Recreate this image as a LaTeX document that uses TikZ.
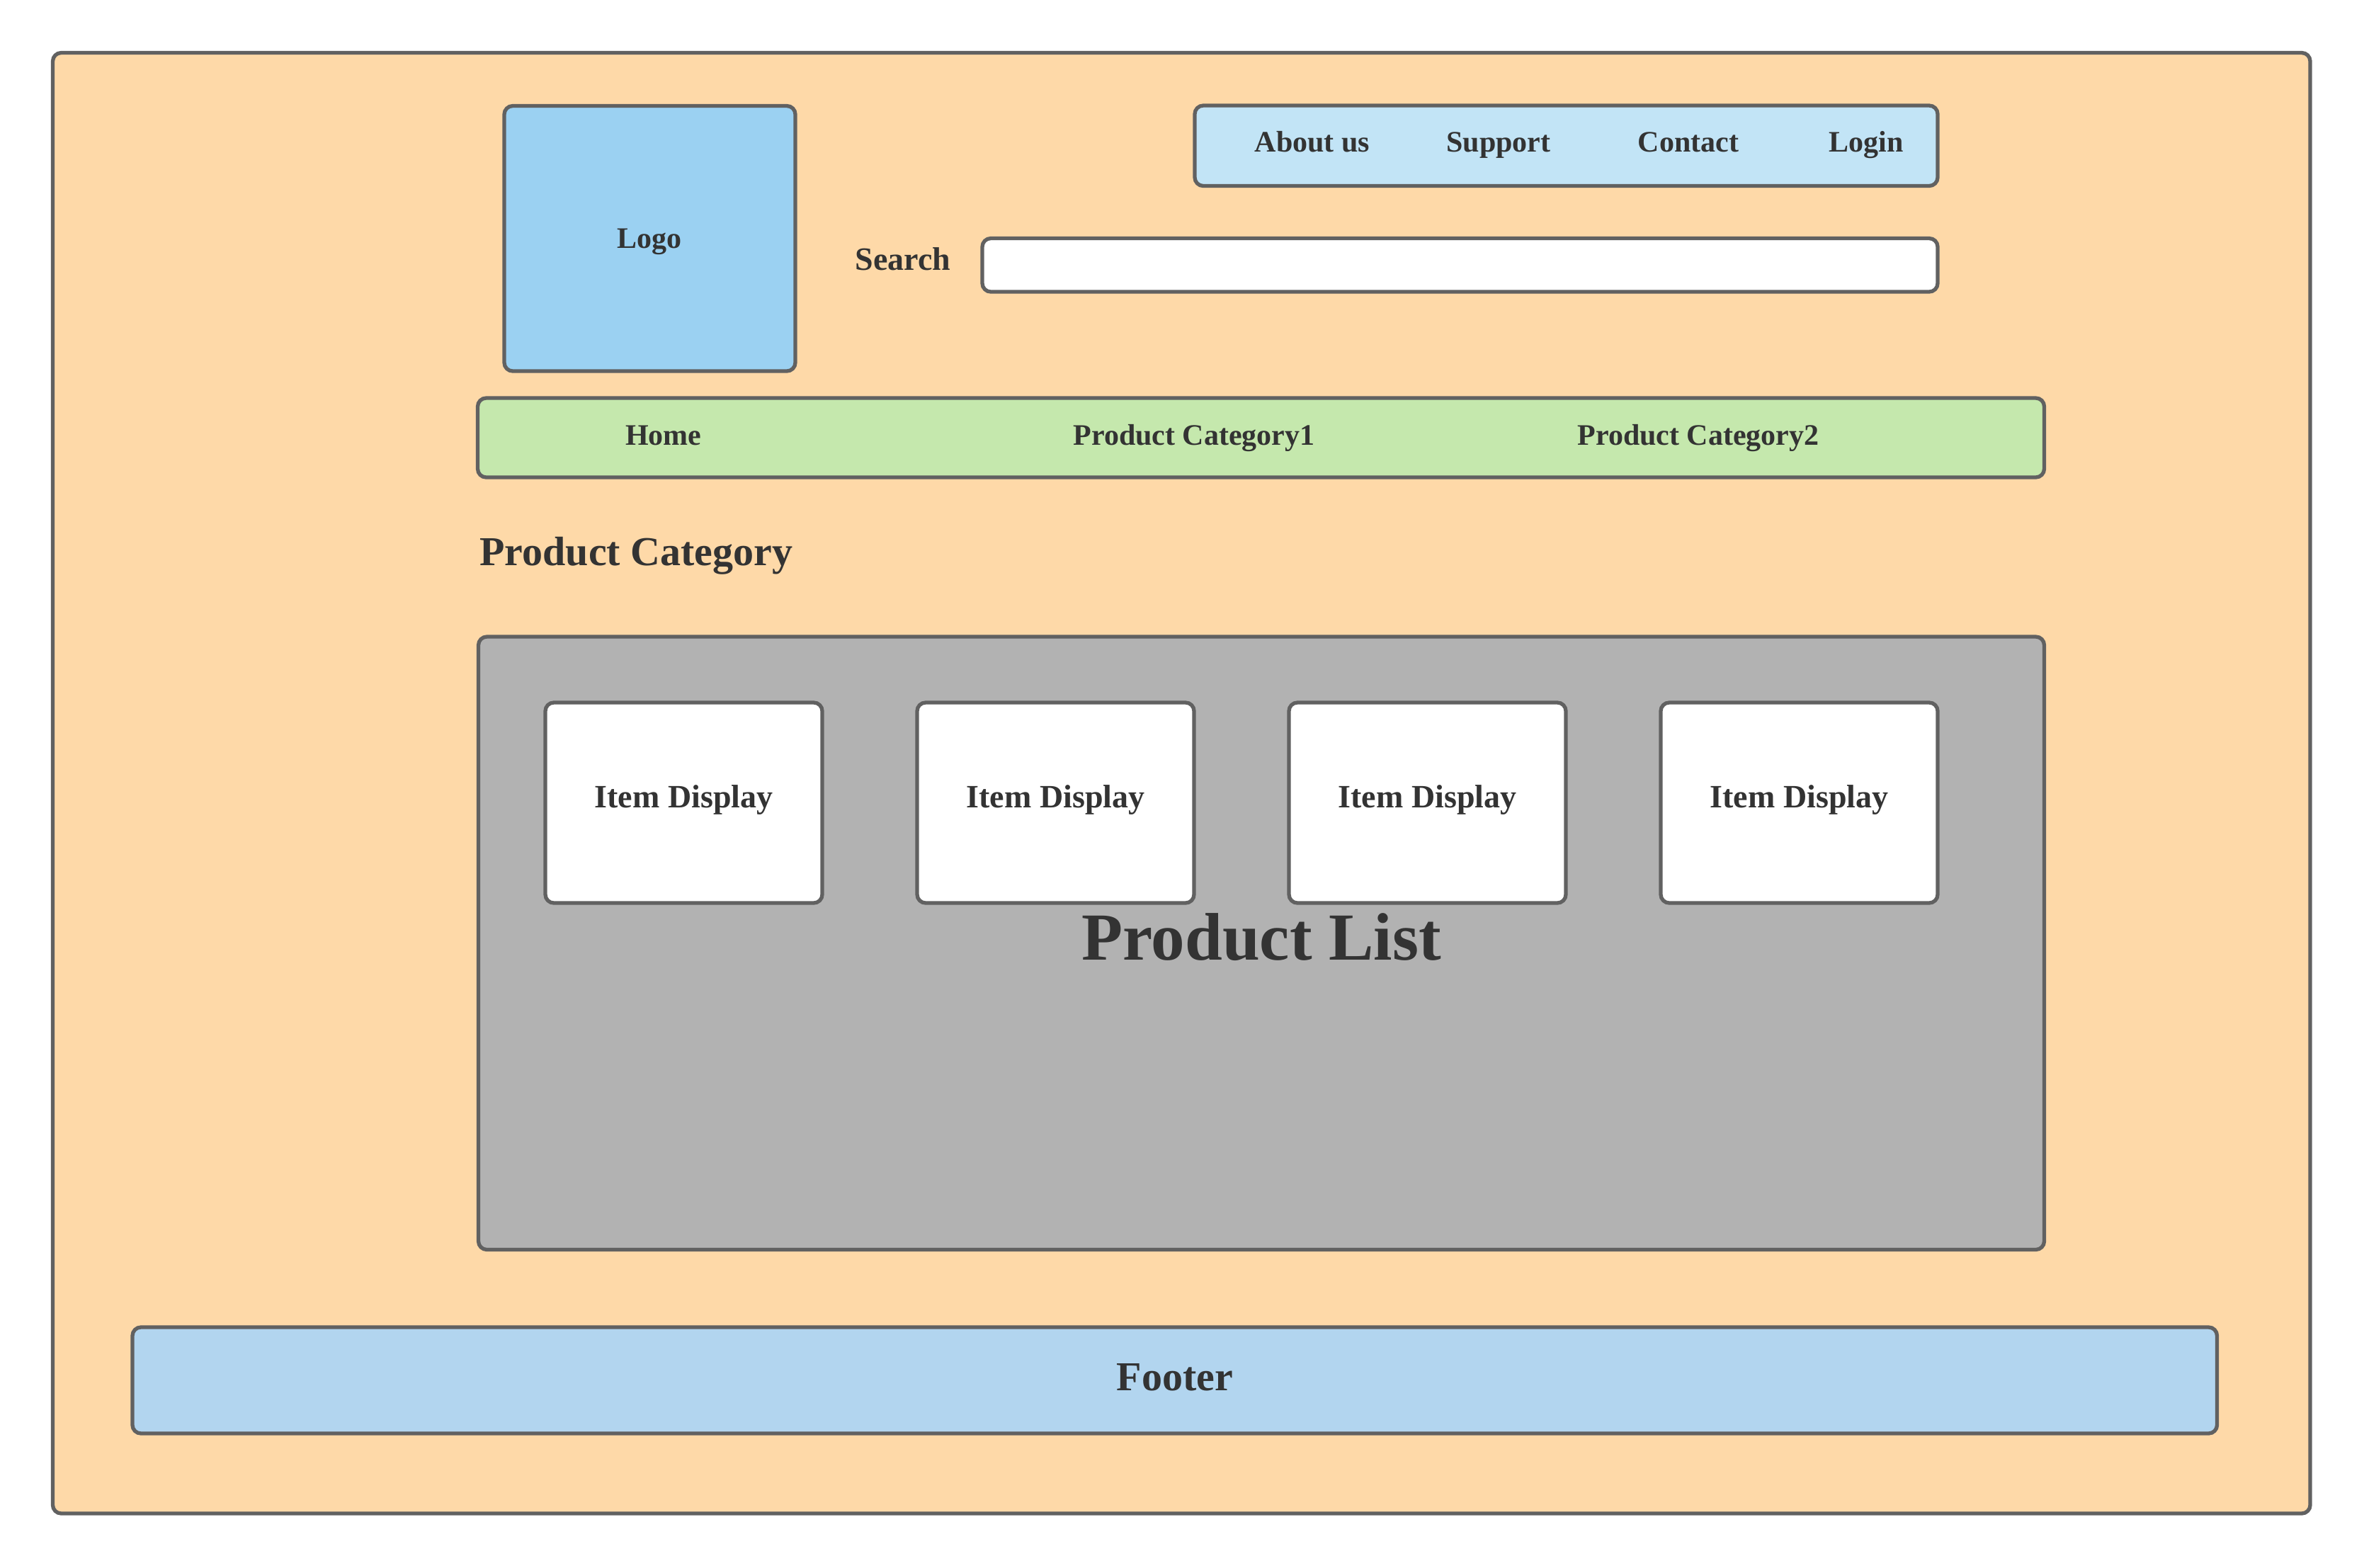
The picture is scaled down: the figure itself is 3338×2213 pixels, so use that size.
\documentclass[tikz,border=0pt]{standalone}
\usepackage{fontspec}
\setmainfont{Liberation Serif}
\definecolor{strokec}{HTML}{616161}
\definecolor{textc}{HTML}{333333}
\definecolor{pagec}{HTML}{FED9A8}
\definecolor{logoc}{HTML}{9BD1F2}
\definecolor{navc}{HTML}{C2E4F6}
\definecolor{greenc}{HTML}{C5E8AD}
\definecolor{greyc}{HTML}{B2B2B2}
\definecolor{footc}{HTML}{B2D5EF}
\begin{document}
\begin{tikzpicture}[x=0.5pt,y=-0.5pt,
  box/.style={draw=strokec, line width=2.65pt, rounded corners=6pt},
  lbl/.style={text=textc, inner sep=0pt, anchor=base},
  fsA/.style={lbl, font=\fontsize{21}{25}\selectfont\bfseries},
  fsB/.style={lbl, font=\fontsize{23}{27}\selectfont\bfseries},
  fsC/.style={lbl, font=\fontsize{29}{34}\selectfont\bfseries},
  fsD/.style={lbl, font=\fontsize{47.5}{55}\selectfont\bfseries}]
\useasboundingbox (0,0) rectangle (3338,2213);
\fill[white] (0,0) rectangle (3338,2213);
% page
\draw[box, fill=pagec] (74.5,74.5) rectangle (3262,2137);
% logo
\draw[box, fill=logoc] (712,149.5) rectangle (1123,524);
\node[fsA] (logo) at (917,350) {Logo};
% top nav
\draw[box, fill=navc] (1687,149) rectangle (2736,262.5);
\node[fsA] (about) at (1853,214) {About us};
\node[fsA] (support) at (2116,214) {Support};
\node[fsA] (contact) at (2384,214) {Contact};
\node[fsA] (login) at (2635,214) {Login};
% search
\node[fsB] (search) at (1275,381.7) {Search};
\draw[box, fill=white] (1387,336.5) rectangle (2736,412);
% menu bar
\draw[box, fill=greenc] (674.5,562) rectangle (2886.5,674);
\node[fsA] (home) at (936.7,628) {Home};
\node[fsA] (cat1) at (1686,628) {Product Category1};
\node[fsA] (cat2) at (2398,628) {Product Category2};
% heading
\node[fsC, anchor=base west] (pcat) at (677,798) {Product Category};
% product list
\draw[box, fill=greyc] (675.5,899) rectangle (2886.5,1764.5);
\foreach \x/\n in {770/i1,1295/i2,1820/i3,2345/i4}{
  \draw[box, fill=white] (\x,992) rectangle ({\x+391},1275);
  \node[fsB] (\n) at ({\x+195.5},1140.4) {Item Display};
}
\node[fsD] (plist) at (1781,1355.6) {Product List};
% footer
\draw[box, fill=footc] (187,1874) rectangle (3130.5,2024);
\node[fsC] (footer) at (1658.7,1963.3) {Footer};
\end{tikzpicture}
\end{document}
